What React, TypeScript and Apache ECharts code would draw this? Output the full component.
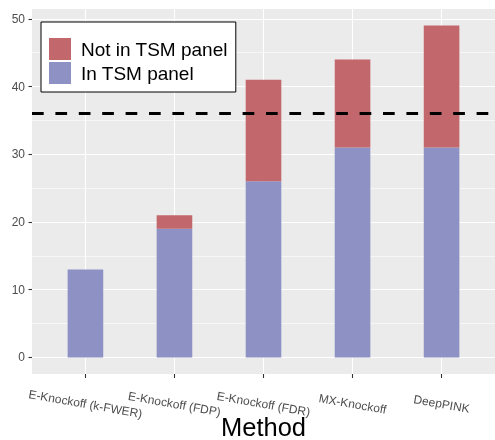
import React, { useEffect, useRef } from 'react';
import * as echarts from 'echarts';

const categories = ['E-Knockoff (k-FWER)', 'E-Knockoff (FDP)', 'E-Knockoff (FDR)', 'MX-Knockoff', 'DeepPINK'];
const inPanel = [13, 19, 26, 31, 31];
const notInPanel = [0, 2, 15, 13, 18];
const threshold = 36;
const yMajorTicks = [0, 10, 20, 30, 40, 50];
const yMinorTicks = [5, 15, 25, 35, 45];
const xTickPositions = [0, 1, 2, 3, 4];
const seriesNames = ['Not in TSM panel', 'In TSM panel'];

const Y_MIN = -2.45;
const Y_MAX = 51.45;
const X_MIN = -0.6;
const X_MAX = 4.6;

const FONT = '"Liberation Sans", Arial, Helvetica, sans-serif';

export default function App() {
  const ref = useRef<HTMLDivElement>(null);

  useEffect(() => {
    if (!ref.current) return;
    const chart = echarts.init(ref.current, undefined, { renderer: 'svg' });
    const panel = { left: 32, right: 0, top: 9, bottom: 66 };
    const band = (495 - panel.left - panel.right) / (X_MAX - X_MIN);
    const barGrid = {
      left: panel.left + band * (0 - X_MIN) - band / 2,
      right: panel.right + band * (X_MAX - 4) - band / 2,
      top: panel.top,
      bottom: panel.bottom,
    };
    const option: any = {
      animation: false,
      textStyle: { fontFamily: FONT },
      grid: [
        {
          ...panel,
          show: true,
          backgroundColor: '#EBEBEB',
          borderWidth: 0,
          containLabel: false,
          outerBoundsMode: 'none',
        },
        {
          ...barGrid,
          show: false,
          containLabel: false,
          outerBoundsMode: 'none',
        },
      ],
      legend: {
        data: seriesNames,
        orient: 'vertical',
        left: 41,
        top: 22,
        itemWidth: 22,
        itemHeight: 22,
        itemGap: 2,
        icon: 'rect',
        padding: [16, 8, 8, 8],
        borderColor: '#000',
        borderWidth: 1,
        borderRadius: 0,
        backgroundColor: '#fff',
        textStyle: { fontSize: 19, color: '#000', fontFamily: FONT, lineHeight: 22, padding: [0, 0, 0, 5] },
      },
      xAxis: [
        {
          gridIndex: 0,
          type: 'value',
          position: 'bottom',
          min: X_MIN,
          max: X_MAX,
          name: 'Method',
          nameLocation: 'middle',
          nameGap: 53,
          nameMoveOverlap: false,
          nameTextStyle: { fontSize: 25.5, color: '#000', fontFamily: FONT, verticalAlign: 'middle', lineHeight: 20 },
          axisLine: { show: false, onZero: false },
          axisTick: { show: true, customValues: xTickPositions, length: 4, lineStyle: { color: '#333', width: 1.1 } },
          axisLabel: {
            customValues: xTickPositions,
            formatter: (v: number) => categories[Math.round(v)] ?? '',
            rotate: -10,
            align: 'center',
            verticalAlign: 'middle',
            margin: 30,
            fontSize: 12,
            color: '#4D4D4D',
            fontFamily: FONT,
          },
          splitLine: { show: true, customValues: xTickPositions, lineStyle: { color: '#fff', width: 1.1 } },
        },
        {
          gridIndex: 1,
          type: 'category',
          data: categories,
          show: false,
          axisLine: { show: false, onZero: false },
          axisTick: { show: false },
          axisLabel: { show: false },
          splitLine: { show: false },
        },
      ],
      yAxis: [
        {
          gridIndex: 0,
          type: 'value',
          position: 'left',
          min: Y_MIN,
          max: Y_MAX,
          axisLine: { show: false, onZero: false },
          axisTick: { show: true, customValues: yMajorTicks, length: 3.5, lineStyle: { color: '#333', width: 1.1 } },
          axisLabel: { customValues: yMajorTicks, margin: 7, fontSize: 12, color: '#4D4D4D', fontFamily: FONT },
          splitLine: { show: true, customValues: yMajorTicks, lineStyle: { color: '#fff', width: 1.1 } },
        },
        {
          gridIndex: 0,
          type: 'value',
          position: 'left',
          min: Y_MIN,
          max: Y_MAX,
          axisLine: { show: false, onZero: false },
          axisTick: { show: false, customValues: yMinorTicks },
          axisLabel: { show: false, customValues: yMinorTicks },
          splitLine: { show: true, customValues: yMinorTicks, lineStyle: { color: '#fff', width: 0.55 } },
        },
        {
          gridIndex: 1,
          type: 'value',
          min: Y_MIN,
          max: Y_MAX,
          show: false,
          axisLine: { show: false, onZero: false },
          splitLine: { show: false },
        },
      ],
      series: [
        {
          name: 'In TSM panel',
          type: 'bar',
          xAxisIndex: 1,
          yAxisIndex: 2,
          stack: 'total',
          barWidth: '40%',
          data: inPanel,
          itemStyle: { color: '#8E91C4' },
        },
        {
          name: 'Not in TSM panel',
          type: 'bar',
          xAxisIndex: 1,
          yAxisIndex: 2,
          stack: 'total',
          barWidth: '40%',
          data: notInPanel,
          itemStyle: { color: '#C2676B' },
        },
        {
          type: 'line',
          xAxisIndex: 0,
          yAxisIndex: 0,
          data: [],
          symbol: 'none',
          silent: true,
          markLine: {
            silent: true,
            symbol: ['none', 'none'],
            label: { show: false },
            lineStyle: { color: '#000', width: 3, type: [11.7, 11.7] },
            emphasis: { disabled: true },
            data: [{ yAxis: threshold }],
          },
        },
      ],
    };
    chart.setOption(option);
    return () => chart.dispose();
  }, []);

  return <div ref={ref} style={{ position: 'fixed', left: 0, top: 0, width: 495, height: 440 }} />;
}
